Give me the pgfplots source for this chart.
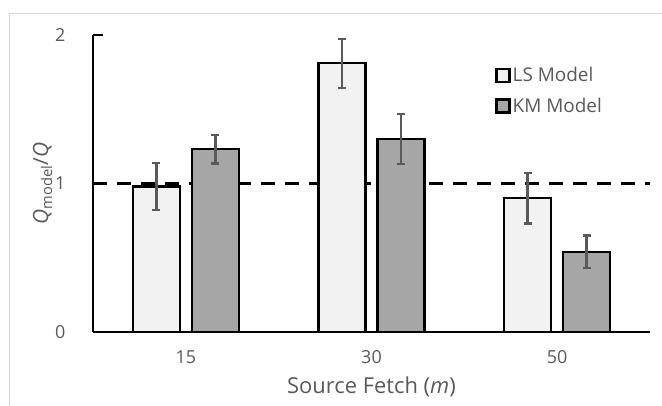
\documentclass[border=0pt]{standalone}
\usepackage{pgfplots}
\pgfplotsset{compat=1.18}
\usepackage{fontspec}
\setmainfont{Open Sans}
\definecolor{txt}{HTML}{595959}
\definecolor{lsfill}{HTML}{F2F2F2}
\definecolor{kmfill}{HTML}{A6A6A6}
\definecolor{errc}{HTML}{5A5A5A}
\begin{document}
\begin{tikzpicture}
\useasboundingbox (0bp,0bp) rectangle (662bp,406bp);
\draw[black!15, line width=1.2bp] (9.5bp,0bp) -- (9.5bp,392.5bp) -- (662bp,392.5bp);
\begin{axis}[
  at={(93bp,74bp)}, anchor=south west,
  scale only axis, width=557bp, height=297bp,
  xmin=-0.5, xmax=2.5, ymin=0, ymax=2,
  ybar=12bp, bar width=47bp,
  axis lines=left,
  axis line style={-, black, line width=2bp},
  xtick={0,1,2}, xticklabels={15,30,50},
  major x tick style={draw=none},
  ytick={0,1,2}, yticklabels={0,1,2},
  tick align=inside, major tick length=10bp,
  major y tick style={black, line width=2.2bp},
  ticklabel style={font=\fontsize{18}{18}\selectfont, text=txt},
  yticklabel style={xshift=-24bp},
  xticklabel style={yshift=-15bp},
  xlabel={Source Fetch (\textit{m})},
  xlabel style={font=\fontsize{22}{22}\selectfont, text=txt, yshift=-6bp},
  ylabel={\textit{Q}\textsubscript{model}/\textit{Q}},
  ylabel style={font=\fontsize{21}{21}\selectfont, text=txt, yshift=-4bp},
  legend style={at={(0.722,0.905)}, anchor=north west, draw=none, fill=none,
    font=\fontsize{19}{19}\selectfont, text=txt, row sep=11bp,
    inner xsep=0pt},
  legend cell align=left,
  legend image code/.code={\draw[#1, line width=2.4bp] (0bp,-6.5bp) rectangle (13bp,6.5bp);},
  error bars/error bar style={draw=errc, line width=2.4bp},
  error bars/error mark options={draw=errc, rotate=90, mark size=4bp, line width=2.4bp},
  clip=false,
]
\addplot[sharp plot, black, line width=3.6bp, dash pattern=on 14bp off 10bp, forget plot]
  coordinates {(-0.5,1) (2.5,1)};
\addplot[draw=black, line width=2.2bp, fill=lsfill,
  error bars/.cd, y dir=both, y explicit]
  coordinates {(0,0.98) +- (0,0.16) (1,1.81) +- (0,0.165) (2,0.90) +- (0,0.17)};
\addlegendentry{LS Model}
\addplot[draw=black, line width=2.2bp, fill=kmfill,
  error bars/.cd, y dir=both, y explicit]
  coordinates {(0,1.23) +- (0,0.095) (1,1.30) +- (0,0.17) (2,0.54) +- (0,0.11)};
\addlegendentry{KM Model}
\end{axis}
\end{tikzpicture}
\end{document}
